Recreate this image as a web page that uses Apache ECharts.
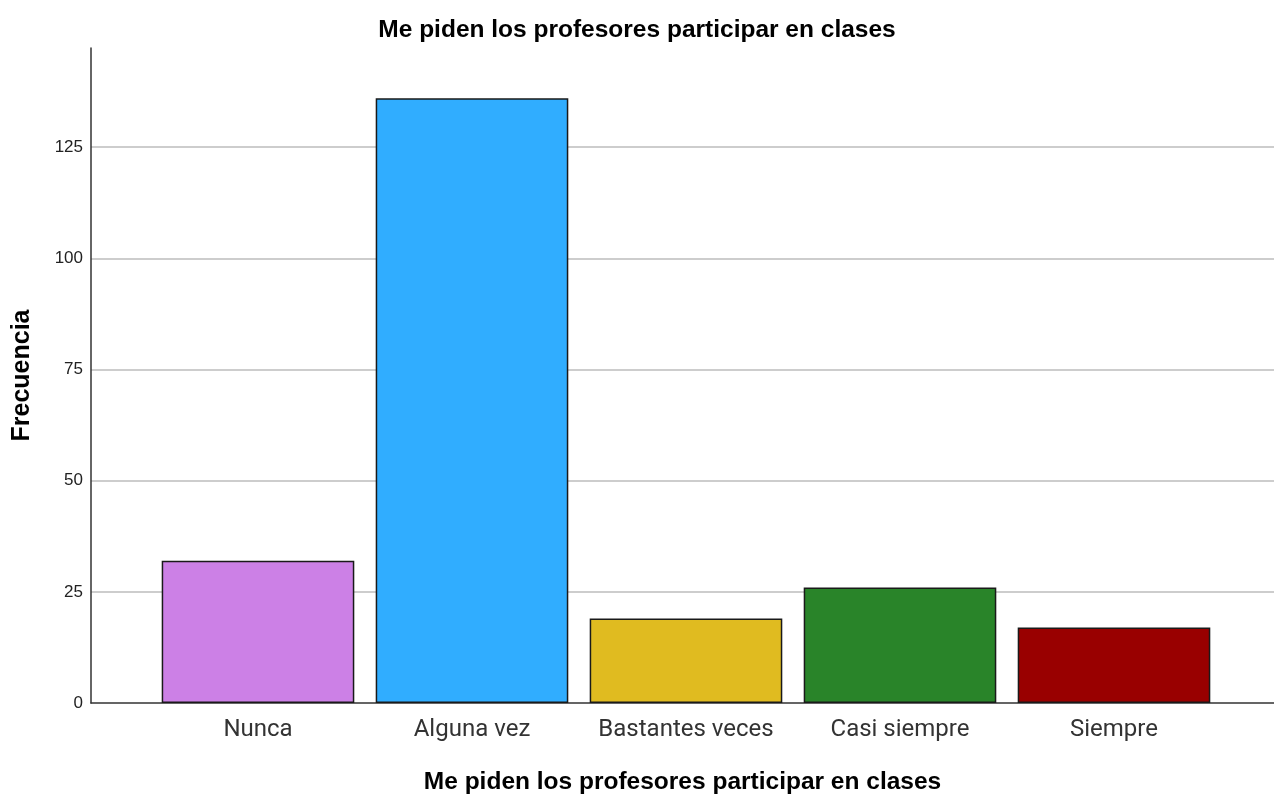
<!DOCTYPE html>
<html>
<head>
<meta charset="utf-8">
<script src="https://cdn.jsdelivr.net/npm/echarts@6/dist/echarts.min.js"></script>
<style>
  html, body { margin: 0; padding: 0; background: #fff; }
  #chart { width: 1274px; height: 796px; }
</style>
</head>
<body>
<div id="chart"></div>
<script>
var categories = ['Nunca', 'Alguna vez', 'Bastantes veces', 'Casi siempre', 'Siempre'];
var frecuencias = [32, 136, 19, 26, 17];
var colores = ['#cc80e6', '#30adff', '#e0bb20', '#298429', '#990000'];
var yTicks = [0, 25, 50, 75, 100, 125];

var titulo = 'Me piden los profesores participar en clases';
var yMax = 147.3;

var myChart = echarts.init(document.getElementById('chart'), null, { renderer: 'canvas' });

var option = {
  backgroundColor: '#fff',
  animation: false,
  textStyle: { fontFamily: 'Liberation Sans, Arial, sans-serif' },
  title: {
    text: titulo,
    left: 'center',
    top: 13,
    textStyle: { fontSize: 24.5, fontWeight: 'bold', color: '#000', fontFamily: 'Liberation Sans, Arial, sans-serif' }
  },
  grid: [
    { left: 91, right: 0, top: 48, bottom: 93, outerBoundsMode: 'none', containLabel: false },
    { left: 151, right: 53, top: 48, bottom: 93, outerBoundsMode: 'none', containLabel: false }
  ],
  xAxis: [
    {
      gridIndex: 0,
      type: 'value',
      min: 0,
      max: 1,
      name: titulo,
      nameLocation: 'middle',
      nameGap: 67,
      nameTextStyle: { fontSize: 24.5, fontWeight: 'bold', color: '#000' },
      axisLine: { show: true, lineStyle: { color: '#333', width: 1.5 } },
      axisTick: { show: false },
      axisLabel: { show: false },
      splitLine: { show: false }
    },
    {
      gridIndex: 1,
      type: 'category',
      data: categories,
      axisLine: { show: false },
      axisTick: { show: false },
      axisLabel: { interval: 0, fontSize: 24, color: '#333', margin: 15, fontFamily: 'Roboto, sans-serif' }
    }
  ],
  yAxis: [
    {
      gridIndex: 0,
      type: 'value',
      min: 0,
      max: yMax,
      interval: yTicks[1] - yTicks[0],
      name: 'Frecuencia',
      nameLocation: 'middle',
      nameGap: 56,
      nameTextStyle: { fontSize: 25, fontWeight: 'bold', color: '#000' },
      axisLine: { show: true, lineStyle: { color: '#333', width: 1.5 } },
      axisTick: { show: false },
      axisLabel: { fontSize: 17, color: '#222', margin: 8, showMaxLabel: false },
      splitLine: { show: true, showMinLine: false, showMaxLine: false, lineStyle: { color: '#bdbdbd', width: 1.5 } }
    },
    {
      gridIndex: 1,
      type: 'value',
      min: 0,
      max: yMax,
      show: false
    }
  ],
  series: [
    {
      type: 'bar',
      xAxisIndex: 1,
      yAxisIndex: 1,
      barCategoryGap: '10%',
      data: frecuencias.map(function (v, i) {
        return { value: v, itemStyle: { color: colores[i] } };
      }),
      itemStyle: { borderColor: '#1a1a1a', borderWidth: 1.5 }
    }
  ]
};

myChart.setOption(option);
window.addEventListener('resize', myChart.resize);
</script>
</body>
</html>
